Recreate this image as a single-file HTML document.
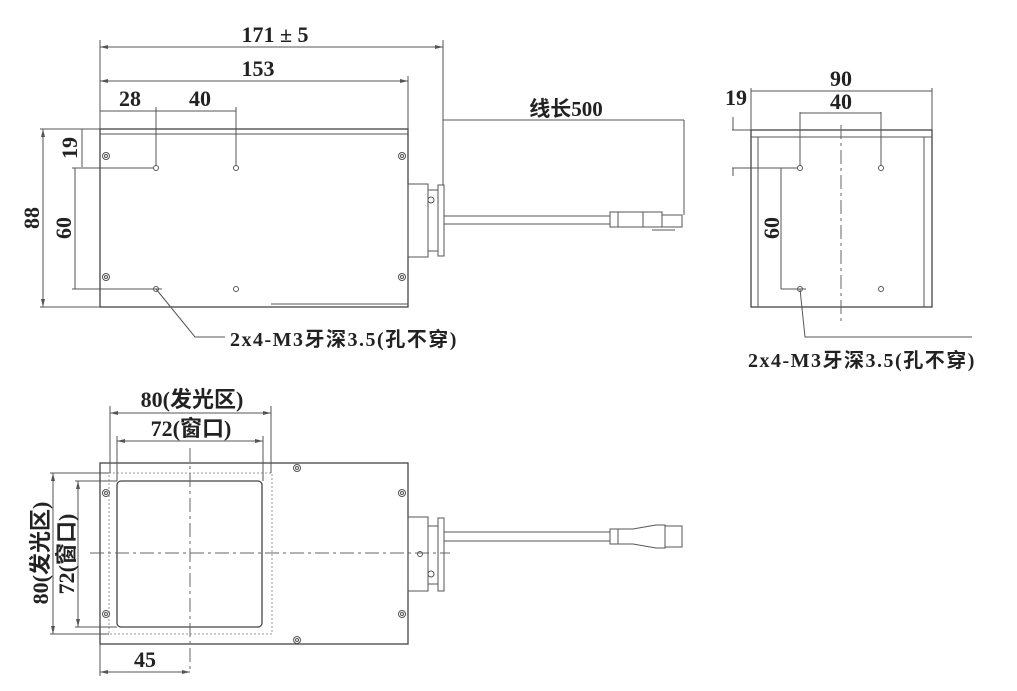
<!DOCTYPE html>
<html><head><meta charset="utf-8"><style>
html,body{margin:0;padding:0;background:#fff;}
svg{display:block;}
text{font-family:"Liberation Serif","Noto Sans CJK SC",serif;font-weight:bold;fill:#222;}
.l{stroke:#555;stroke-width:1;fill:none;}
.b{stroke:#444;stroke-width:1.3;fill:none;}
.d{stroke:#666;stroke-width:1;fill:none;stroke-dasharray:14 4 3 4;}
</style></head><body>
<svg width="1017" height="691" viewBox="0 0 1017 691" xmlns="http://www.w3.org/2000/svg">
<defs>
<marker id="a" markerWidth="8" markerHeight="6" refX="8" refY="3" orient="auto-start-reverse" markerUnits="userSpaceOnUse"><path d="M0,1 L8,3 L0,5" fill="#555"/></marker>
<g id="scr"><circle r="3.5" fill="none" stroke="#555"/><circle r="1.5" fill="none" stroke="#555"/></g>
</defs>

<!-- TOP VIEW -->
<rect x="100" y="129" width="308" height="178" class="b"/>
<line x1="100" y1="134" x2="408" y2="134" class="l" stroke="#bbb"/>
<line x1="271" y1="304" x2="408" y2="304" class="l"/>
<use href="#scr" x="106" y="156"/><use href="#scr" x="402" y="156"/>
<use href="#scr" x="106" y="277"/><use href="#scr" x="402" y="277"/>
<circle cx="156" cy="168" r="2.5" class="l"/><circle cx="236" cy="168" r="2.5" class="l"/>
<circle cx="156" cy="289" r="2.5" class="l"/><circle cx="236" cy="289" r="2.5" class="l"/>
<line x1="150" y1="289" x2="162" y2="289" class="l"/>
<rect x="408" y="184" width="20" height="73" class="l"/>
<rect x="428" y="190" width="10" height="61" class="l"/>
<rect x="438" y="185" width="6" height="71" class="l"/>
<circle cx="431" cy="200" r="3" class="l"/>
<rect x="444" y="216" width="166" height="8" class="l"/>
<rect x="610" y="212" width="8" height="15" class="l"/>
<rect x="618" y="212" width="44" height="15" class="l"/>
<line x1="643" y1="212" x2="643" y2="227" class="l"/>
<rect x="662" y="215" width="20" height="12" class="l"/>
<line x1="652" y1="230" x2="675" y2="230" class="l"/>
<!-- dims top -->
<line x1="100" y1="40" x2="100" y2="129" class="l"/>
<line x1="443" y1="40" x2="443" y2="185" class="l"/>
<line x1="100" y1="47" x2="443" y2="47" class="l" marker-start="url(#a)" marker-end="url(#a)"/>
<text x="275" y="42" font-size="22" text-anchor="middle">171 ± 5</text>
<line x1="408" y1="76" x2="408" y2="129" class="l"/>
<line x1="100" y1="81" x2="408" y2="81" class="l" marker-start="url(#a)" marker-end="url(#a)"/>
<text x="258" y="76" font-size="22" text-anchor="middle">153</text>
<line x1="156" y1="107" x2="156" y2="166" class="l"/>
<line x1="236" y1="107" x2="236" y2="166" class="l"/>
<line x1="100" y1="111" x2="236" y2="111" class="l"/>
<text x="130" y="106" font-size="22" text-anchor="middle">28</text>
<text x="200" y="106" font-size="22" text-anchor="middle">40</text>
<line x1="443" y1="120" x2="684" y2="120" class="l"/>
<line x1="684" y1="120" x2="684" y2="215" class="l"/>
<text x="566" y="116" font-size="21" text-anchor="middle">线长500</text>
<line x1="40" y1="129" x2="100" y2="129" class="l"/>
<line x1="43" y1="129" x2="43" y2="307" class="l" marker-start="url(#a)" marker-end="url(#a)"/>
<line x1="40" y1="307" x2="100" y2="307" class="l"/>
<text transform="translate(39,218) rotate(-90)" font-size="22" text-anchor="middle">88</text>
<line x1="82" y1="129" x2="82" y2="167" class="l"/>
<text transform="translate(77,148) rotate(-90)" font-size="22" text-anchor="middle">19</text>
<line x1="72" y1="168" x2="154" y2="168" class="l"/>
<line x1="72" y1="289" x2="154" y2="289" class="l"/>
<line x1="75" y1="168" x2="75" y2="289" class="l"/>
<text transform="translate(71,228) rotate(-90)" font-size="22" text-anchor="middle">60</text>
<polyline points="156,289 195,337 225,337" class="l"/>
<text x="230" y="346" font-size="20" letter-spacing="1.5">2x4-M3牙深3.5(孔不穿)</text>

<!-- SIDE VIEW -->
<rect x="751" y="130" width="181" height="177" class="b"/>
<line x1="758" y1="137" x2="758" y2="307" class="l"/>
<line x1="924" y1="137" x2="924" y2="307" class="l"/>
<line x1="751" y1="137" x2="932" y2="137" class="l"/>
<line x1="841" y1="125" x2="841" y2="322" class="d"/>
<circle cx="800" cy="168" r="2.5" class="l"/><circle cx="881" cy="168" r="2.5" class="l"/>
<circle cx="800" cy="289" r="2.5" class="l"/><circle cx="881" cy="289" r="2.5" class="l"/>
<line x1="794" y1="289" x2="806" y2="289" class="l"/>
<line x1="751" y1="88" x2="751" y2="130" class="l"/>
<line x1="932" y1="88" x2="932" y2="130" class="l"/>
<line x1="751" y1="91" x2="932" y2="91" class="l"/>
<text x="841" y="86" font-size="22" text-anchor="middle">90</text>
<line x1="800" y1="112" x2="800" y2="166" class="l"/>
<line x1="881" y1="112" x2="881" y2="166" class="l"/>
<line x1="800" y1="113" x2="881" y2="113" class="l"/>
<text x="841" y="109" font-size="22" text-anchor="middle">40</text>
<line x1="732" y1="130" x2="751" y2="130" class="l"/>
<line x1="733" y1="117" x2="733" y2="130" class="l"/>
<line x1="732" y1="168" x2="798" y2="168" class="l"/>
<line x1="733" y1="168" x2="733" y2="176" class="l"/>
<text x="736" y="105" font-size="22" text-anchor="middle">19</text>
<line x1="781" y1="168" x2="781" y2="289" class="l"/>
<line x1="781" y1="289" x2="798" y2="289" class="l"/>
<text transform="translate(779,228) rotate(-90)" font-size="22" text-anchor="middle">60</text>
<polyline points="800,289 805,337 972,337" class="l"/>
<text x="748" y="367" font-size="20" letter-spacing="1.5">2x4-M3牙深3.5(孔不穿)</text>

<!-- BOTTOM VIEW -->
<rect x="100" y="463" width="308" height="181" class="b"/>
<rect x="109" y="473" width="163" height="161" fill="none" stroke="#999" stroke-width="1" stroke-dasharray="2 2"/>
<rect x="117" y="481" width="145" height="146" rx="4" class="b"/>
<line x1="190" y1="448" x2="190" y2="672" class="d"/>
<line x1="90" y1="553" x2="450" y2="553" class="d"/>
<use href="#scr" x="297" y="468"/><use href="#scr" x="402" y="493"/>
<use href="#scr" x="402" y="614"/><use href="#scr" x="297" y="640"/>
<use href="#scr" x="106" y="493"/><use href="#scr" x="106" y="614"/>
<rect x="408" y="517" width="20" height="74" class="l"/>
<rect x="428" y="526" width="10" height="58" class="l"/>
<rect x="438" y="518" width="6" height="73" class="l"/>
<circle cx="420" cy="554" r="2.5" class="l"/>
<circle cx="431" cy="574" r="3" class="l"/>
<rect x="444" y="532" width="166" height="9" class="l"/>
<rect x="610" y="529" width="8" height="15" class="l"/>
<path d="M618,529 L633,529 L656,525 L665,525 L665,548 L656,548 L633,544 L618,544 Z" class="l"/>
<rect x="665" y="526" width="17" height="21" class="l"/>
<line x1="110" y1="406" x2="110" y2="473" class="l"/>
<line x1="271" y1="406" x2="271" y2="473" class="l"/>
<line x1="110" y1="413" x2="271" y2="413" class="l" marker-start="url(#a)" marker-end="url(#a)"/>
<text x="192" y="407" font-size="22" text-anchor="middle">80(发光区)</text>
<line x1="117" y1="436" x2="117" y2="481" class="l"/>
<line x1="263" y1="436" x2="263" y2="481" class="l"/>
<line x1="117" y1="441" x2="263" y2="441" class="l" marker-start="url(#a)" marker-end="url(#a)"/>
<text x="191" y="436" font-size="22" text-anchor="middle">72(窗口)</text>
<line x1="50" y1="473" x2="109" y2="473" class="l"/>
<line x1="50" y1="634" x2="109" y2="634" class="l"/>
<line x1="53" y1="473" x2="53" y2="634" class="l" marker-start="url(#a)" marker-end="url(#a)"/>
<text transform="translate(48,553) rotate(-90)" font-size="22" text-anchor="middle">80(发光区)</text>
<line x1="75" y1="481" x2="117" y2="481" class="l"/>
<line x1="75" y1="627" x2="117" y2="627" class="l"/>
<line x1="78" y1="481" x2="78" y2="627" class="l" marker-start="url(#a)" marker-end="url(#a)"/>
<text transform="translate(74,554) rotate(-90)" font-size="22" text-anchor="middle">72(窗口)</text>
<line x1="100" y1="644" x2="100" y2="676" class="l"/>
<line x1="100" y1="672" x2="190" y2="672" class="l" marker-start="url(#a)" marker-end="url(#a)"/>
<text x="145" y="667" font-size="22" text-anchor="middle">45</text>
</svg>
</body></html>
